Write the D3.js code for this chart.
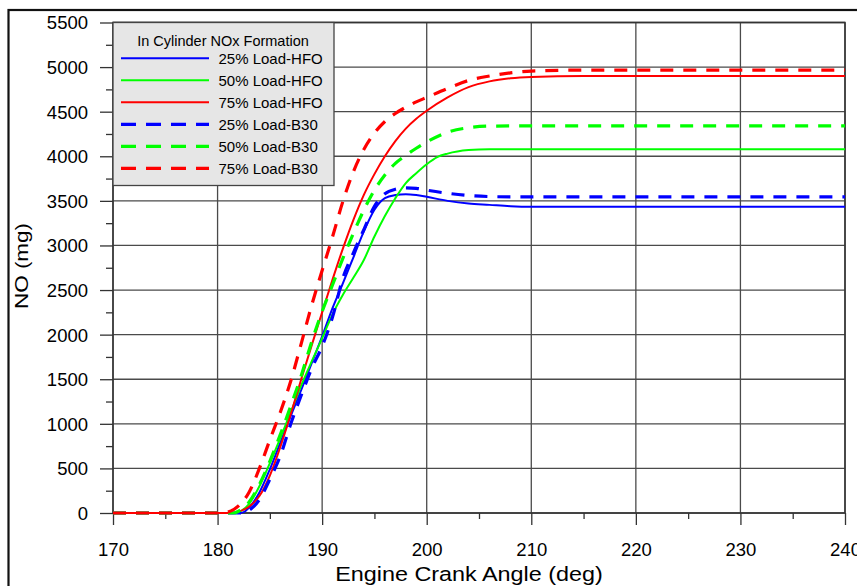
<!DOCTYPE html>
<html>
<head>
<meta charset="utf-8">
<script src="https://cdn.jsdelivr.net/npm/d3@7"></script>
<style>
  html, body { margin: 0; padding: 0; background: #fff; }
  svg { display: block; font-family: "Liberation Sans", Arial, sans-serif; }
</style>
</head>
<body>
<svg id="chart" width="857" height="586"></svg>
<script>
// ---- Data ----
const xTicks = [170, 180, 190, 200, 210, 220, 230, 240];
const yTicks = [0, 500, 1000, 1500, 2000, 2500, 3000, 3500, 4000, 4500, 5000, 5500];
const legendTitle = "In Cylinder NOx Formation";
const seriesNames = ["25% Load-HFO", "50% Load-HFO", "75% Load-HFO", "25% Load-B30", "50% Load-B30", "75% Load-B30"];
const seriesColors = ["#0000ff", "#00ff00", "#ff0000", "#0000ff", "#00ff00", "#ff0000"];
const seriesDashed = [false, false, false, true, true, true];

// [crank angle (deg), NO (mg)]
const hfo25 = [[170,0],[182,0],[182.5,10],[183,60],[184,230],[185,490],[186,790],[187,1090],[188,1380],[189,1680],[190,1980],[191,2300],[192,2580],[193,2870],[194,3160],[195,3400],[196,3530],[197,3565],[198,3575],[199,3565],[200,3545],[202,3500],[204,3470],[206,3455],[208,3440],[210,3434],[240,3434]];
const hfo50 = [[170,0],[181.5,0],[182,10],[183,100],[184,300],[185,560],[186,840],[187,1130],[188,1430],[189,1700],[190,1960],[191,2230],[192,2450],[193,2640],[194,2840],[195,3100],[196,3330],[197,3530],[198,3700],[199,3810],[200,3910],[201,3990],[202,4030],[204,4070],[206,4080],[240,4080]];
const hfo75 = [[170,0],[181.5,0],[182,15],[183,70],[184,190],[185,420],[186,740],[187,1110],[188,1500],[189,1880],[190,2250],[191,2620],[192,2970],[193,3290],[194,3570],[195,3800],[196,4000],[197,4170],[198,4310],[199,4420],[200,4510],[202,4660],[204,4775],[206,4840],[208,4875],[210,4890],[215,4900],[240,4900]];
const b30_25 = [[170,0],[182.5,0],[183,30],[184,150],[185,380],[186,640],[187,1000],[188,1320],[189,1620],[190,1870],[191,2200],[192,2640],[193,2920],[194,3180],[195,3440],[196,3580],[197,3630],[198,3645],[199,3640],[200,3620],[202,3585],[204,3560],[206,3548],[208,3545],[240,3545]];
const b30_50 = [[170,0],[181.5,0],[182,20],[183,120],[184,320],[185,580],[186,880],[187,1200],[188,1540],[189,1920],[190,2260],[191,2560],[192,2860],[193,3140],[194,3400],[195,3620],[196,3790],[197,3920],[198,4010],[199,4090],[200,4160],[202,4270],[204,4320],[206,4338],[208,4340],[240,4340]];
const b30_75 = [[170,0],[180.5,0],[181,10],[182,80],[183,230],[184,500],[185,820],[186,1130],[187,1480],[188,1900],[189,2330],[190,2720],[191,3100],[192,3500],[193,3830],[194,4080],[195,4260],[196,4390],[197,4480],[198,4550],[199,4610],[200,4660],[202,4760],[204,4850],[206,4900],[208,4935],[210,4955],[215,4966],[240,4966]];
const seriesData = [hfo25, hfo50, hfo75, b30_25, b30_50, b30_75];

// ---- Layout ----
const svg = d3.select("#chart");
const pL = 113, pR = 845, pT = 22.5, pB = 513;
const x = d3.scaleLinear().domain([170, 240]).range([pL, pR]);
const y = d3.scaleLinear().domain([0, 5500]).range([pB, pT]);

// outer frame
svg.append("rect").attr("x", 8.5).attr("y", 10).attr("width", 900).attr("height", 700)
  .attr("fill", "none").attr("stroke", "#111").attr("stroke-width", 2.2);

// grid
const grid = svg.append("g");
grid.selectAll(".gx").data(xTicks).join("line")
  .attr("x1", d => x(d)).attr("x2", d => x(d)).attr("y1", pT).attr("y2", pB)
  .attr("stroke", "#4a4a4a").attr("stroke-width", 1.3);
grid.selectAll(".gy").data(yTicks).join("line")
  .attr("x1", pL).attr("x2", pR).attr("y1", d => y(d)).attr("y2", d => y(d))
  .attr("stroke", "#4a4a4a").attr("stroke-width", 1.3);

// axes
const xAxis = d3.axisBottom(x).tickValues(xTicks).tickSize(12).tickFormat(d3.format("d"));
const xMinor = d3.axisBottom(x).tickValues(d3.range(175, 240, 10)).tickSize(6).tickFormat("");
const yAxis = d3.axisLeft(y).tickValues(yTicks).tickSize(13).tickFormat(d3.format("d"));
const yMinor = d3.axisLeft(y).tickValues(d3.range(250, 5500, 500)).tickSize(7).tickFormat("");

function styleAxis(g) {
  g.select(".domain").remove();
  g.selectAll("line").attr("stroke", "#333").attr("stroke-width", 1.3);
  g.selectAll("text").attr("fill", "#000").style("font-size", "18.5px").style("font-family", "'Liberation Sans', Arial, sans-serif");
}
const gx = svg.append("g").attr("transform", `translate(0,${pB})`).call(xAxis).call(styleAxis);
gx.selectAll("text").attr("y", 43).attr("dy", null);
svg.append("g").attr("transform", `translate(0,${pB})`).call(xMinor).call(styleAxis);
const gy = svg.append("g").attr("transform", `translate(${pL},0)`).call(yAxis).call(styleAxis);
gy.selectAll("text").attr("x", -25).attr("dy", "0.35em");
svg.append("g").attr("transform", `translate(${pL},0)`).call(yMinor).call(styleAxis);

// plot border
svg.append("rect").attr("x", pL).attr("y", pT).attr("width", pR - pL).attr("height", pB - pT)
  .attr("fill", "none").attr("stroke", "#333").attr("stroke-width", 1.5);

// clip
svg.append("clipPath").attr("id", "clip").append("rect")
  .attr("x", pL).attr("y", pT - 3).attr("width", pR - pL).attr("height", pB - pT + 6);

// lines
const line = d3.line().x(d => x(d[0])).y(d => y(d[1])).curve(d3.curveMonotoneX);
const lines = svg.append("g").attr("clip-path", "url(#clip)");
seriesData.forEach((s, i) => {
  lines.append("path").datum(s).attr("d", line)
    .attr("fill", "none").attr("stroke", seriesColors[i])
    .attr("stroke-width", seriesDashed[i] ? 3.2 : 2)
    .attr("stroke-dasharray", seriesDashed[i] ? "13,10" : null);
});

// legend
const lg = svg.append("g");
lg.append("rect").attr("x", pL).attr("y", pT).attr("width", 221).attr("height", 163)
  .attr("fill", "#e6e6e6").attr("stroke", "#444").attr("stroke-width", 1.3);
lg.append("text").attr("x", 223).attr("y", 45.5).attr("text-anchor", "middle")
  .style("font-size", "14.5px").text(legendTitle);
seriesNames.forEach((n, i) => {
  const yy = 58.3 + i * 22;
  lg.append("line").attr("x1", 121).attr("x2", 209).attr("y1", yy).attr("y2", yy)
    .attr("stroke", seriesColors[i]).attr("stroke-width", seriesDashed[i] ? 3.2 : 2)
    .attr("stroke-dasharray", seriesDashed[i] ? "15,10" : null);
  lg.append("text").attr("x", 218.5).attr("y", yy + 5.5).style("font-size", "15px").text(n);
});

// axis titles (stretched along baseline like the original)
svg.append("text").attr("transform", "translate(469,580.5) scale(1.2,1)")
  .attr("text-anchor", "middle").style("font-size", "19.5px").text("Engine Crank Angle (deg)");
svg.append("text").attr("transform", "translate(27.5,266) rotate(-90) scale(1.25,1)")
  .attr("text-anchor", "middle").style("font-size", "18px").text("NO (mg)");
</script>
</body>
</html>
